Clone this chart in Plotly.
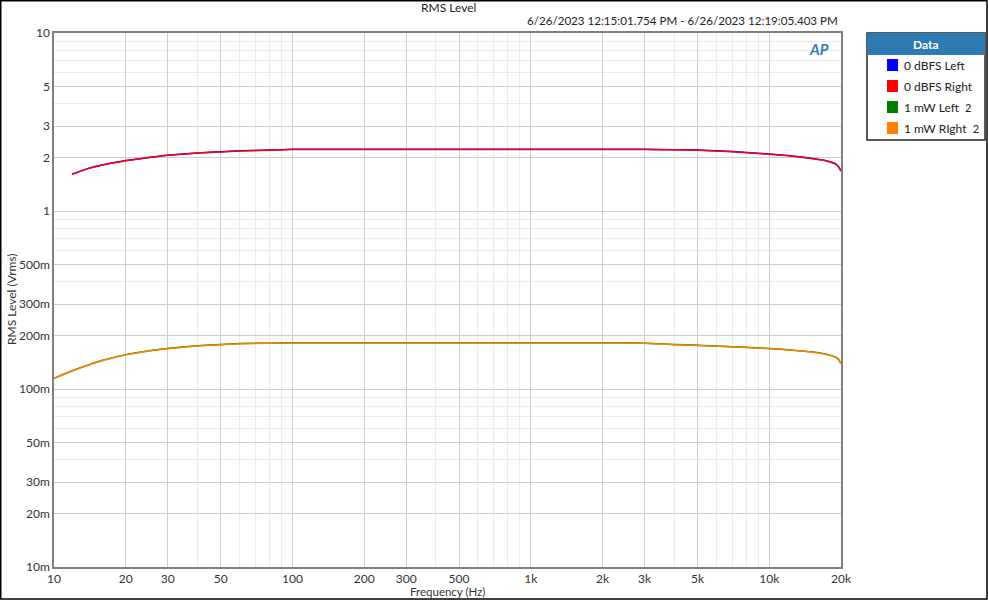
import plotly.graph_objects as go

# ---- data ----
freq_hi = [11.9, 13, 14, 16, 18, 20, 25, 30, 40, 50, 60, 80, 100, 200, 500, 1000, 2000,
           3000, 4000, 5000, 7000, 10000, 12000, 15000, 17000, 18000, 19000, 19500, 20000]
dbfs_left = [1.61, 1.68, 1.74, 1.82, 1.875, 1.92, 2.00, 2.06, 2.12, 2.15, 2.18, 2.20, 2.22, 2.22,
             2.22, 2.22, 2.22, 2.22, 2.21, 2.20, 2.16, 2.09, 2.05, 1.98, 1.93, 1.89, 1.84, 1.78, 1.68]
dbfs_right = [1.61, 1.68, 1.735, 1.815, 1.87, 1.915, 1.995, 2.055, 2.115, 2.145, 2.175, 2.195, 2.215, 2.215,
              2.215, 2.215, 2.215, 2.215, 2.205, 2.195, 2.155, 2.085, 2.045, 1.975, 1.925, 1.885, 1.835, 1.775, 1.675]

freq_lo = [10, 12, 14, 16, 18, 20, 25, 30, 40, 50, 60, 80, 100, 200, 500, 1000, 2000,
           3000, 4000, 5000, 7000, 10000, 12000, 15000, 17000, 18000, 19000, 19500, 20000]
mw_left = [0.115, 0.127, 0.137, 0.145, 0.151, 0.156, 0.164, 0.169, 0.175, 0.178, 0.180, 0.181, 0.182, 0.182,
           0.182, 0.182, 0.182, 0.181, 0.178, 0.176, 0.173, 0.169, 0.166, 0.162, 0.158, 0.155, 0.151, 0.147, 0.139]
mw_right = [0.115, 0.127, 0.1365, 0.1445, 0.1505, 0.1555, 0.1635, 0.1685, 0.1745, 0.1775, 0.1795, 0.1805, 0.1815, 0.1815,
            0.1815, 0.1815, 0.1815, 0.1805, 0.1775, 0.1755, 0.1725, 0.1685, 0.1655, 0.1615, 0.1575, 0.1545, 0.1505, 0.1465, 0.1385]

x_ticks = [10, 20, 30, 50, 100, 200, 300, 500, 1000, 2000, 3000, 5000, 10000, 20000]
x_labels = ["10", "20", "30", "50", "100", "200", "300", "500", "1k", "2k", "3k", "5k", "10k", "20k"]
y_ticks = [0.01, 0.02, 0.03, 0.05, 0.1, 0.2, 0.3, 0.5, 1, 2, 3, 5, 10]
y_labels = ["10m", "20m", "30m", "50m", "100m", "200m", "300m", "500m", "1", "2", "3", "5", "10"]

legend_names = ["0 dBFS Left", "0 dBFS Right", "1 mW Left", "1 mW RIght"]
colors = ["#0000ff", "#ff0000", "#008000", "#ff8000"]

x_minor = [m * 10 ** e for e in range(1, 5) for m in range(2, 10)
           if m * 10 ** e not in x_ticks and m * 10 ** e < 20000]
y_minor = [m * 10 ** e for e in range(-2, 1) for m in range(2, 10)
           if round(m * 10 ** e, 6) not in [round(v, 6) for v in y_ticks]]

fig = go.Figure()
series = [(freq_hi, dbfs_left), (freq_hi, dbfs_right), (freq_lo, mw_left), (freq_lo, mw_right)]
for (fx, fy), name, c in zip(series, legend_names, colors):
    fig.add_trace(go.Scatter(x=fx, y=fy, mode="lines", name=name, showlegend=False,
                             line=dict(color=c, width=1.5, shape="spline", smoothing=0.4)))

font = "Lato, Noto Sans, sans-serif"
tick_col = "#333333"
fig.update_layout(
    width=988, height=600,
    margin=dict(l=54, r=147, t=33, b=33, autoexpand=False),
    paper_bgcolor="white", plot_bgcolor="white",
    font=dict(family=font, size=12, color=tick_col),
    xaxis=dict(type="log", range=[1, 4.30103], tickvals=x_ticks, ticktext=x_labels,
               showgrid=True, gridcolor="#cccccc", gridwidth=1, automargin=False,
               minor=dict(tickvals=x_minor, showgrid=True, gridcolor="#ebebeb", ticklen=0),
               showline=True, linecolor="#808080", linewidth=1.5, mirror=True,
               ticks="", tickfont=dict(size=12, color=tick_col), zeroline=False),
    yaxis=dict(type="log", range=[-2, 1], tickvals=y_ticks, ticktext=y_labels,
               showgrid=True, gridcolor="#cccccc", gridwidth=1, automargin=False,
               minor=dict(tickvals=y_minor, showgrid=True, gridcolor="#ebebeb", ticklen=0),
               showline=True, linecolor="#808080", linewidth=1.5, mirror=True,
               ticks="", tickfont=dict(size=12, color=tick_col), zeroline=False),
)

def px(xp):
    return (xp - 54) / 787

def py(yp):
    return (567 - yp) / 534

# Axis titles
fig.add_annotation(text="Frequency (Hz)", xref="paper", yref="paper", x=px(447), y=py(591), showarrow=False,
                   xanchor="center", yanchor="middle", font=dict(size=11.5, color=tick_col))
fig.add_annotation(text="RMS Level (Vrms)", xref="paper", yref="paper", x=px(11), y=py(299), showarrow=False,
                   textangle=-90, xanchor="center", yanchor="middle", font=dict(size=12, color=tick_col))

# Title and timestamp
fig.add_annotation(text="RMS Level", xref="paper", yref="paper", x=px(448), y=py(7), showarrow=False,
                   xanchor="center", yanchor="middle", font=dict(size=12, color="#222"))
fig.add_annotation(text="6/26/2023 12:15:01.754 PM - 6/26/2023 12:19:05.403 PM", xref="paper", yref="paper",
                   x=px(840), y=py(21), showarrow=False, xanchor="right", yanchor="middle",
                   font=dict(size=11.6, color="#222"))
# AP logo
fig.add_annotation(text="<b><i>AP</i></b>", xref="paper", yref="paper", x=px(819), y=py(49),
                   showarrow=False, xanchor="center", yanchor="middle",
                   font=dict(size=15, color="#2f7dc0"))

# Outer border
fig.add_shape(type="rect", xref="paper", yref="paper", x0=px(0.75), x1=px(987),
              y0=py(599), y1=py(0.75), line=dict(color="black", width=1.5), fillcolor="rgba(0,0,0,0)")

# Legend box
fig.add_shape(type="rect", xref="paper", yref="paper", x0=px(867), x1=px(985), y0=py(140), y1=py(33),
              line=dict(color="#222", width=1.5), fillcolor="white")
fig.add_shape(type="rect", xref="paper", yref="paper", x0=px(867), x1=px(985), y0=py(55), y1=py(33),
              line=dict(color="#222", width=0), fillcolor="#2e7bb4")
fig.add_annotation(text="<b>Data</b>", xref="paper", yref="paper", x=px(926), y=py(44), showarrow=False,
                   xanchor="center", yanchor="middle", font=dict(size=12, color="white"))
suffix = ["", "", "  <span style='font-size:11px'>2</span>", "  <span style='font-size:11px'>2</span>"]
for i, (name, c) in enumerate(zip(legend_names, colors)):
    yc = 65 + i * 21
    fig.add_shape(type="rect", xref="paper", yref="paper", x0=px(887), x1=px(898), y0=py(yc + 6), y1=py(yc - 6),
                  line=dict(width=0), fillcolor=c)
    fig.add_annotation(text=name + suffix[i], xref="paper", yref="paper", x=px(902), y=py(yc), showarrow=False,
                       xanchor="left", yanchor="middle", font=dict(size=12, color="#222"))

fig.write_html("out.html", config={"displayModeBar": False},
               post_script="document.body.style.margin='0';document.body.style.overflow='hidden';"
                           "window.dispatchEvent(new Event('resize'));")
